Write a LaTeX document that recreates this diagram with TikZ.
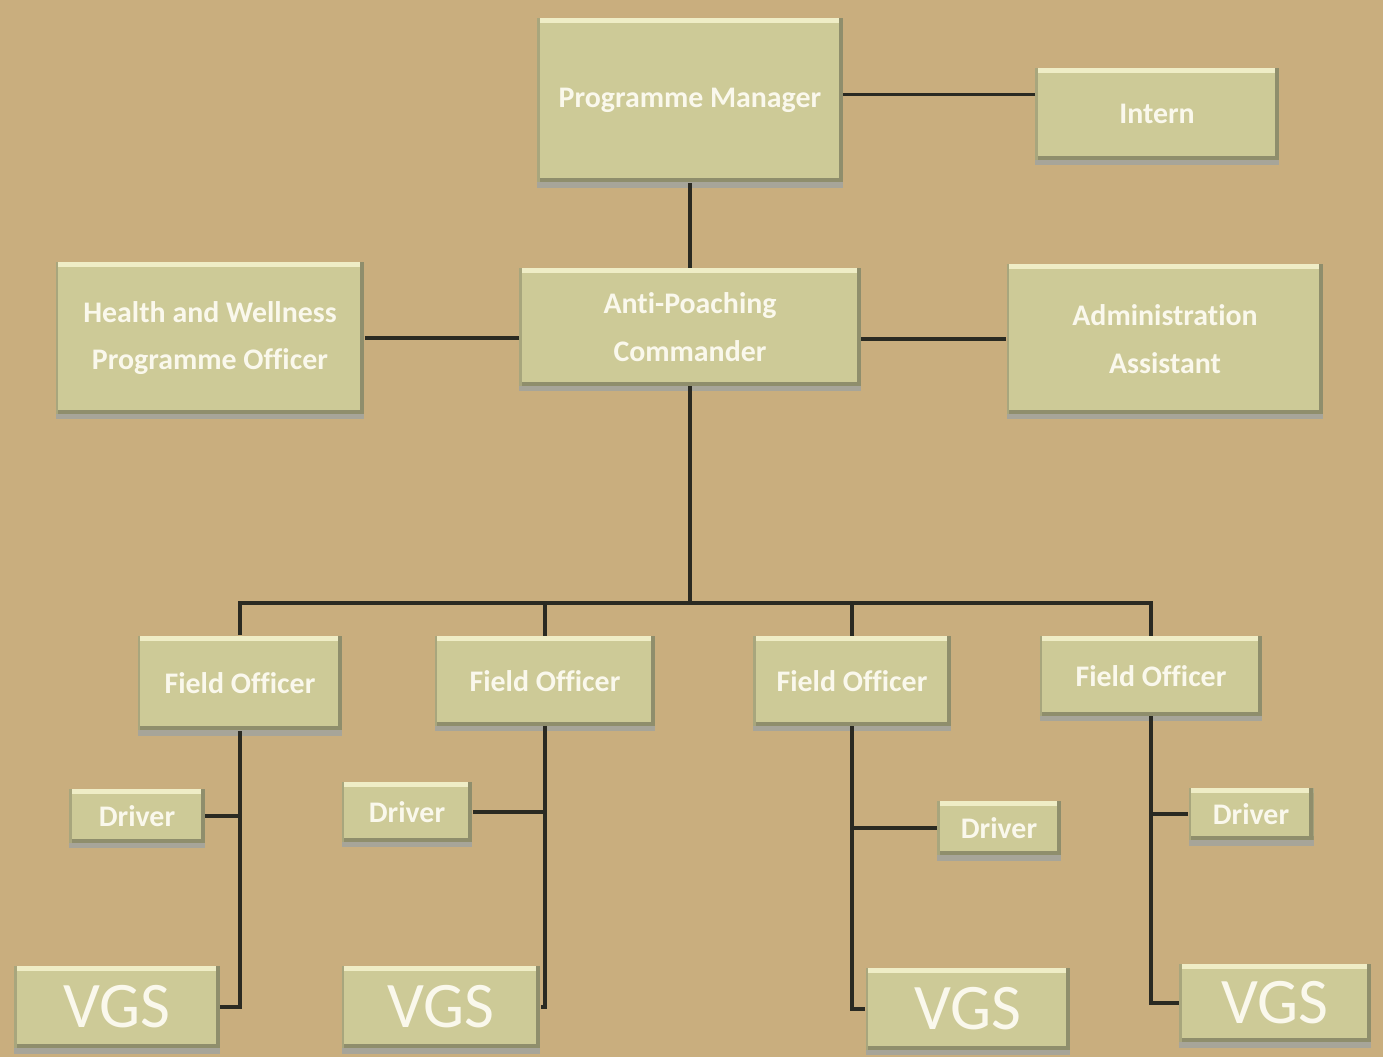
\documentclass[tikz,border=0pt]{standalone}
\usepackage{fontspec}
\setmainfont[Ligatures={NoCommon}]{Carlito}
\usetikzlibrary{shadows}
\definecolor{bgtan}{HTML}{C9AE7E}
\definecolor{boxfill}{HTML}{CDCA97}
\definecolor{bevtop}{HTML}{EFEDC6}
\definecolor{bevdark}{HTML}{8F8E6C}
\definecolor{shadowgrey}{HTML}{A4A59C}
\definecolor{linecol}{HTML}{2A2A22}
\definecolor{txtcol}{HTML}{FAF8EC}
\tikzset{
  orgbox/.style={rectangle, fill=boxfill, inner sep=0pt, align=center,
    text=txtcol, font=\bfseries\fontsize{17}{27}\selectfont,
    drop shadow={shadow xshift=0pt, shadow yshift=-3pt, fill=shadowgrey, opacity=0.9},
    path picture={
      \fill[bevtop] (path picture bounding box.north west) rectangle ([yshift=-3pt]path picture bounding box.north east);
      \fill[bevdark] (path picture bounding box.south west) rectangle ([yshift=2.5pt]path picture bounding box.south east);
      \fill[bevdark] ([xshift=-2.5pt]path picture bounding box.south east) rectangle (path picture bounding box.north east);
      \fill[bevdark!60!boxfill] (path picture bounding box.south west) rectangle ([xshift=1.5pt]path picture bounding box.north west);
    }},
  vgsbox/.style={orgbox, font=\fontsize{37}{40}\selectfont},
  conn/.style={draw=linecol, line width=1.9pt}
}
\begin{document}
\begin{tikzpicture}[x=0.02cm,y=-0.02cm]
\fill[bgtan] (0,0) rectangle (1383,1057);
\useasboundingbox (0,0) rectangle (1383,1057);

\node[orgbox, minimum width=6.12cm, minimum height=3.30cm] (pm) at (690,100) {Programme Manager};
\node[orgbox, minimum width=4.88cm, minimum height=1.84cm] (intern) at (1157,114) {Intern};
\node[orgbox, minimum width=6.18cm, minimum height=3.04cm] (hw) at (210,338) {Health and Wellness\\Programme Officer};
\node[orgbox, minimum width=6.84cm, minimum height=2.36cm] (apc) at (690,327) {Anti-Poaching\\Commander};
\node[orgbox, minimum width=6.34cm, minimum height=3.00cm] (admin) at (1165,339) {Administration\\Assistant};

\node[orgbox, minimum width=4.10cm, minimum height=1.90cm] (fo1) at (240,683) {Field Officer};
\node[orgbox, minimum width=4.42cm, minimum height=1.80cm] (fo2) at (545,681) {Field Officer};
\node[orgbox, minimum width=3.96cm, minimum height=1.80cm] (fo3) at (852,681) {Field Officer};
\node[orgbox, minimum width=4.46cm, minimum height=1.60cm] (fo4) at (1151,676) {Field Officer};

\node[orgbox, minimum width=2.72cm, minimum height=1.08cm] (d1) at (137,816) {Driver};
\node[orgbox, minimum width=2.62cm, minimum height=1.20cm] (d2) at (407,812) {Driver};
\node[orgbox, minimum width=2.48cm, minimum height=1.10cm] (d3) at (999,828) {Driver};
\node[orgbox, minimum width=2.50cm, minimum height=1.06cm] (d4) at (1251,814) {Driver};

\node[vgsbox, minimum width=4.12cm, minimum height=1.66cm] (vgs1) at (117,1007) {VGS};
\node[vgsbox, minimum width=3.98cm, minimum height=1.66cm] (vgs2) at (441,1007) {VGS};
\node[vgsbox, minimum width=4.10cm, minimum height=1.64cm] (vgs3) at (968,1009) {VGS};
\node[vgsbox, minimum width=3.84cm, minimum height=1.58cm] (vgs4) at (1275,1003) {VGS};

\coordinate (bus) at (690,603);

\draw[conn] (pm.south) -- (pm.south |- apc.north);
\draw[conn] ([yshift=3pt]pm.east) -- ([yshift=3pt]pm.east -| intern.west);
\draw[conn] (hw.east) -- (hw.east -| apc.west);
\draw[conn] (admin.west) -- (admin.west -| apc.east);
\draw[conn] (apc.south) -- (bus);
\draw[conn] (fo1.north) |- (bus) -| (fo4.north);
\draw[conn] (bus -| fo2.north) -- (fo2.north);
\draw[conn] (bus -| fo3.north) -- (fo3.north);

\draw[conn] (fo1.south) |- (vgs1.east);
\draw[conn] (d1.east) -- (d1.east -| fo1.south);
\draw[conn] (fo2.south) |- (vgs2.east);
\draw[conn] (d2.east) -- (d2.east -| fo2.south);
\draw[conn] (fo3.south) |- (vgs3.west);
\draw[conn] (d3.west) -- (d3.west -| fo3.south);
\draw[conn] (fo4.south) |- (vgs4.west);
\draw[conn] (d4.west) -- (d4.west -| fo4.south);
\end{tikzpicture}
\end{document}
